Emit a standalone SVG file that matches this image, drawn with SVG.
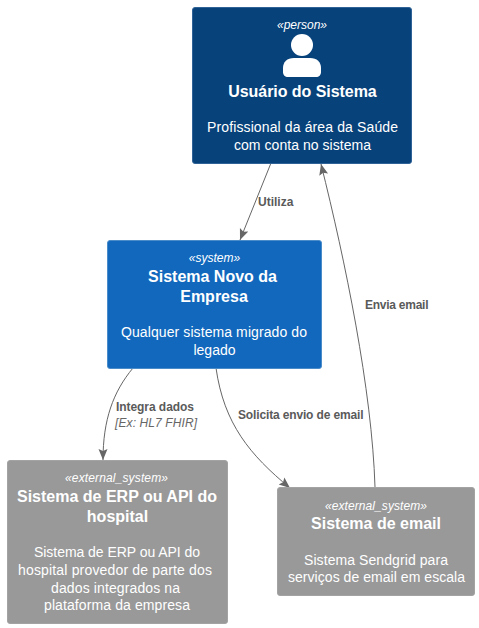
<svg xmlns="http://www.w3.org/2000/svg" width="479" height="628" viewBox="0 0 479 628">
<style>
text{font-family:"Liberation Sans",Arial,sans-serif;text-anchor:middle;fill:#fff}
.st{font-size:12px;font-style:italic}
.ti{font-size:16px;font-weight:bold}
.de{font-size:14px}
.box{stroke-width:1}
.ln{fill:none;stroke:#666;stroke-width:1}
.lb{font-size:12px;font-weight:bold;fill:#5a5a5a;text-anchor:start}
.lt{font-size:12px;font-style:italic;fill:#666;text-anchor:start}
</style>
<defs>
<marker id="ah" markerUnits="userSpaceOnUse" markerWidth="12" markerHeight="12" refX="11" refY="6" orient="auto"><path d="M0 1.500L11 6L0 10.500L2 6Z" fill="#666"/></marker>
</defs>
<rect width="479" height="628" fill="#fff"/>
<g id="connectors">
<path class="ln" marker-end="url(#ah)" d="M271 163L240 240"/>
<text class="lb" x="258" y="206">Utiliza</text>
<path class="ln" marker-end="url(#ah)" d="M133 368C113 392 103 420 103 460"/>
<text class="lb" x="116" y="411" textLength="78">Integra dados</text>
<text class="lt" x="115" y="427" textLength="82">[Ex: HL7 FHIR]</text>
<path class="ln" marker-end="url(#ah)" d="M216 368C224 424 250 455 290 488"/>
<text class="lb" x="238" y="419" textLength="125.500">Solicita envio de email</text>
<path class="ln" marker-end="url(#ah)" d="M375 487C372 390 345 260 321 164"/>
<text class="lb" x="365" y="309" textLength="63.500">Envia email</text>
</g>
<g id="person">
<rect class="box" x="192.500" y="7.500" width="219" height="156" rx="2.500" fill="#08427b" stroke="#2f6397"/>
<text class="st" x="302" y="29">«person»</text>
<circle cx="302" cy="45" r="11" fill="#fff"/>
<path d="M294 58H310C317 58 321 62 321 68V72C321 75 319 77 316 77H288C285 77 283 75 283 72V68C283 62 287 58 294 58Z" fill="#fff"/>
<text class="ti" x="302.500" y="96.500" textLength="148.500">Usuário do Sistema</text>
<text class="de" x="302.500" y="132" textLength="191">Profissional da área da Saúde</text>
<text class="de" x="302.500" y="150" textLength="137">com conta no sistema</text>
</g>
<g id="system">
<rect class="box" x="107.500" y="240.500" width="214" height="128" rx="2.500" fill="#1168bd" stroke="#4a8bc9"/>
<text class="st" x="214.500" y="262">«system»</text>
<text class="ti" x="212.500" y="281.500">Sistema Novo da</text>
<text class="ti" x="214" y="301.500">Empresa</text>
<text class="de" x="214" y="337" textLength="186">Qualquer sistema migrado do</text>
<text class="de" x="214.500" y="355">legado</text>
</g>
<g id="erp">
<rect class="box" x="7.500" y="460.500" width="220" height="163" rx="2.500" fill="#999" stroke="#a3a3a3"/>
<text class="st" x="116.500" y="482" textLength="103">«external_system»</text>
<text class="ti" x="117" y="502">Sistema de ERP ou API do</text>
<text class="ti" x="117.500" y="522">hospital</text>
<text class="de" x="117" y="557" textLength="166">Sistema de ERP ou API do</text>
<text class="de" x="115" y="575" textLength="194">hospital provedor de parte dos</text>
<text class="de" x="115.500" y="593" textLength="129">dados integrados na</text>
<text class="de" x="117" y="610" textLength="146">plataforma da empresa</text>
</g>
<g id="email">
<rect class="box" x="277.500" y="487.500" width="197" height="108" rx="2.500" fill="#999" stroke="#a3a3a3"/>
<text class="st" x="376" y="510" textLength="102">«external_system»</text>
<text class="ti" x="376" y="529">Sistema de email</text>
<text class="de" x="376" y="565" textLength="144">Sistema Sendgrid para</text>
<text class="de" x="376.500" y="582" textLength="177">serviços de email em escala</text>
</g>
</svg>
